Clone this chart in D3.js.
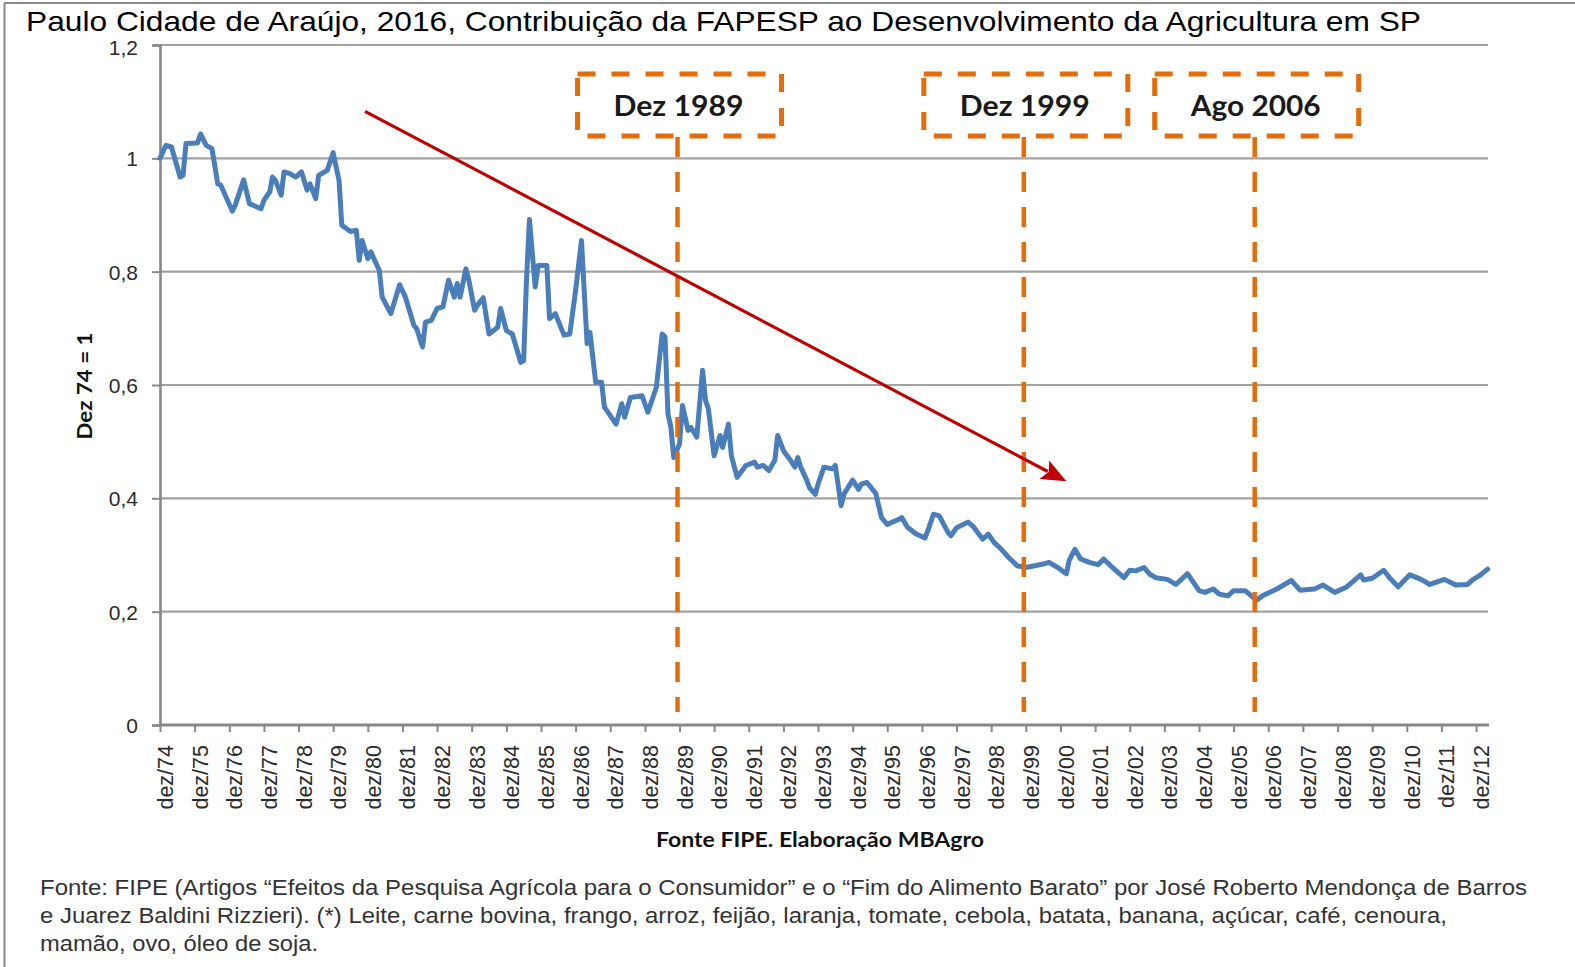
<!DOCTYPE html>
<html><head><meta charset="utf-8">
<script src="https://cdn.jsdelivr.net/npm/d3@7"></script>
<style>html,body{margin:0;padding:0;background:#fff;} svg{display:block;}</style>
</head><body>
<svg id="chart" width="1575" height="967"></svg>
<script>
// ---------- DATA ----------
const dates = [
 "1974-12","1975-02","1975-04","1975-07","1975-08","1975-09","1976-01","1976-02","1976-04","1976-06","1976-08","1976-09",
 "1977-01","1977-02","1977-05","1977-07","1977-11","1977-12","1978-02","1978-03","1978-04","1978-06","1978-07","1978-09","1978-11",
 "1979-01","1979-03","1979-04","1979-06","1979-07","1979-10","1979-12","1980-02","1980-03","1980-06","1980-08","1980-09","1980-10","1980-12",
 "1981-01","1981-04","1981-05","1981-08","1981-11","1982-01","1982-04","1982-05","1982-07","1982-08","1982-10","1982-12",
 "1983-02","1983-04","1983-06","1983-07","1983-08","1983-10","1983-11","1984-01","1984-02","1984-04","1984-06","1984-09","1984-10","1984-12",
 "1985-02","1985-05","1985-06","1985-07","1985-08","1985-10","1985-11","1986-02","1986-03","1986-05","1986-08","1986-10","1986-12",
 "1987-02","1987-04","1987-05","1987-07","1987-09","1987-10","1988-02","1988-04","1988-05","1988-07","1988-11",
 "1989-01","1989-04","1989-06","1989-07","1989-08","1989-09","1989-10","1989-12","1990-01","1990-03","1990-04","1990-06","1990-08","1990-09","1990-10","1990-12",
 "1991-02","1991-03","1991-05","1991-06","1991-08","1991-11","1992-02","1992-03","1992-05","1992-07","1992-09","1992-10","1992-12",
 "1993-02","1993-04","1993-05","1993-06","1993-08","1993-09","1993-11","1993-12","1994-02","1994-05","1994-06","1994-08","1994-09","1994-12",
 "1995-02","1995-03","1995-05","1995-08","1995-10","1995-12","1996-04","1996-05","1996-07","1996-10","1997-01","1997-02","1997-04","1997-06","1997-09","1997-10","1997-12",
 "1998-04","1998-06","1998-09","1998-11","1999-01","1999-03","1999-06","1999-09","1999-12","2000-03","2000-06","2000-08","2000-11",
 "2001-02","2001-03","2001-05","2001-07","2001-10","2002-01","2002-03","2002-06","2002-10","2002-12","2003-02","2003-05","2003-07","2003-09",
 "2004-01","2004-04","2004-08","2004-12","2005-02","2005-05","2005-07","2005-10","2005-12","2006-04","2006-08","2006-10",
 "2007-03","2007-08","2007-11","2008-04","2008-07","2008-11","2009-03","2009-08","2009-09","2009-12","2010-04","2010-06","2010-09",
 "2011-01","2011-05","2011-08","2012-01","2012-05","2012-09","2012-11","2013-01","2013-04"
];
const values = [
 1.000,1.023,1.020,0.967,0.970,1.026,1.027,1.043,1.023,1.017,0.955,0.953,
 0.907,0.917,0.962,0.920,0.911,0.926,0.941,0.967,0.961,0.935,0.976,0.973,0.967,
 0.976,0.944,0.955,0.929,0.970,0.979,1.010,0.961,0.882,0.871,0.873,0.820,0.855,0.823,
 0.835,0.802,0.755,0.726,0.777,0.755,0.705,0.699,0.667,0.711,0.714,0.735,
 0.738,0.785,0.755,0.779,0.755,0.805,0.785,0.732,0.741,0.754,0.690,0.702,0.735,0.696,
 0.690,0.640,0.643,0.785,0.892,0.773,0.811,0.811,0.717,0.726,0.688,0.690,0.767,
 0.855,0.673,0.693,0.605,0.605,0.561,0.531,0.567,0.543,0.578,0.581,
 0.552,0.596,0.690,0.685,0.549,0.525,0.472,0.496,0.564,0.520,0.525,0.508,0.626,0.573,0.558,0.475,
 0.511,0.490,0.531,0.475,0.437,0.458,0.464,0.455,0.458,0.449,0.467,0.511,0.484,
 0.470,0.455,0.472,0.455,0.433,0.419,0.407,0.425,0.455,0.452,0.458,0.387,0.408,0.432,
 0.416,0.425,0.428,0.409,0.366,0.354,0.363,0.366,0.349,0.337,0.330,0.343,0.372,0.369,0.340,0.334,0.348,
 0.358,0.349,0.328,0.337,0.322,0.313,0.296,0.281,0.278,0.281,0.284,0.287,0.278,
 0.267,0.290,0.310,0.293,0.287,0.283,0.293,0.278,0.260,0.273,0.272,0.278,0.266,0.260,
 0.257,0.248,0.267,0.237,0.234,0.240,0.231,0.228,0.237,0.237,0.220,0.228,
 0.240,0.255,0.238,0.240,0.247,0.234,0.243,0.265,0.256,0.259,0.273,0.260,0.244,
 0.265,0.257,0.248,0.257,0.247,0.248,0.257,0.263,0.275
];
const xDomain = ["1974-12","2013-04"];
const tickDates = ["1974-12","1975-12","1976-12","1977-12","1978-12","1979-12","1980-12","1981-12","1982-12","1983-12",
 "1984-12","1985-12","1986-12","1987-12","1988-12","1989-12","1990-12","1991-12","1992-12","1993-12",
 "1994-12","1995-12","1996-12","1997-12","1998-12","1999-12","2000-12","2001-12","2002-12","2003-12",
 "2004-12","2005-12","2006-12","2007-12","2008-12","2009-12","2010-12","2011-12","2012-12"];
const tickLabels = ["dez/74","dez/75","dez/76","dez/77","dez/78","dez/79","dez/80","dez/81","dez/82","dez/83",
 "dez/84","dez/85","dez/86","dez/87","dez/88","dez/89","dez/90","dez/91","dez/92","dez/93",
 "dez/94","dez/95","dez/96","dez/97","dez/98","dez/99","dez/00","dez/01","dez/02","dez/03",
 "dez/04","dez/05","dez/06","dez/07","dez/08","dez/09","dez/10","dez/11","dez/12"];
const yTicks = [0, 0.2, 0.4, 0.6, 0.8, 1, 1.2];
const yTickLabels = ["0","0,2","0,4","0,6","0,8","1","1,2"];
const markerDates = ["1989-12","1999-12","2006-08"];
const markerLabels = ["Dez 1989","Dez 1999","Ago 2006"];
const arrowFrom = ["1980-11", 1.083];
const arrowTo = ["2001-02", 0.430];
const titleText = "Paulo Cidade de Araújo, 2016, Contribuição da FAPESP ao Desenvolvimento da Agricultura em SP";
const yTitle = "Dez 74 = 1";
const xTitle = "Fonte FIPE. Elaboração  MBAgro";
const footnote = [
 "Fonte: FIPE (Artigos “Efeitos da Pesquisa Agrícola para o Consumidor” e o “Fim do Alimento Barato” por José Roberto Mendonça de Barros",
 "e Juarez Baldini Rizzieri). (*) Leite, carne bovina, frango, arroz, feijão, laranja, tomate, cebola, batata, banana, açúcar, café, cenoura,",
 "mamão, ovo, óleo de soja."
];

// ---------- DRAW ----------
const svg = d3.select("#chart");
const parse = d3.timeParse("%Y-%m");
const x = d3.scaleTime().domain(xDomain.map(parse)).range([160, 1487.6]);
const y = d3.scaleLinear().domain([0, 1.2]).range([725, 45]);
const plotRight = 1488;

// frame
svg.append("line").attr("x1",4).attr("x2",1575).attr("y1",3).attr("y2",3).attr("stroke","#8a8a8a").attr("stroke-width",2);
svg.append("line").attr("x1",4.5).attr("x2",4.5).attr("y1",3).attr("y2",967).attr("stroke","#8a8a8a").attr("stroke-width",2);

// title
svg.append("text").attr("x",26).attr("y",31).attr("font-family","'Liberation Sans', Arial, sans-serif")
  .attr("font-size",28).attr("fill","#000").attr("textLength",1395).attr("lengthAdjust","spacingAndGlyphs").text(titleText);

// gridlines
svg.append("g").selectAll("line").data(yTicks.filter(d=>d>0)).join("line")
  .attr("x1",160).attr("x2",plotRight).attr("y1",d=>y(d)).attr("y2",d=>y(d))
  .attr("stroke","#a2a2a2").attr("stroke-width",2.2);

// y axis
const yAxis = d3.axisLeft(y).tickValues(yTicks).tickSize(8).tickFormat((d,i)=>yTickLabels[i]);
const gy = svg.append("g").attr("transform","translate(160,0)").call(yAxis);
gy.select(".domain").attr("stroke","#888").attr("stroke-width",2.6);
gy.selectAll(".tick line").attr("stroke","#888").attr("stroke-width",2);
gy.selectAll(".tick text").attr("font-family","'Liberation Sans', Arial, sans-serif").attr("font-size",21)
  .attr("fill","#2b2b2b").attr("x",-22).attr("dy",(d)=> d===1.2 ? "0.45em" : "0.35em");

// x axis
const xAxis = d3.axisBottom(x).tickValues(tickDates.map(parse)).tickSize(7).tickFormat((d,i)=>tickLabels[i]);
const gx = svg.append("g").attr("transform","translate(0,725)").call(xAxis);
gx.select(".domain").attr("stroke","#888").attr("stroke-width",2.8).attr("d","M160,0H1489");
gx.selectAll(".tick line").attr("stroke","#888").attr("stroke-width",2);
gx.selectAll(".tick text").attr("font-family","'Liberation Sans', Arial, sans-serif").attr("font-size",21.5)
  .attr("fill","#2b2b2b").attr("text-anchor","end").attr("y",0).attr("dy","0.35em")
  .attr("transform","translate(5,20) rotate(-90)");

// axis titles
svg.append("text").attr("transform","translate(92,386) rotate(-90)").attr("text-anchor","middle")
  .attr("font-family","Lato, 'Open Sans', sans-serif").attr("font-weight","bold").attr("font-size",20)
  .attr("fill","#111").attr("textLength",107).attr("lengthAdjust","spacingAndGlyphs").text(yTitle);
svg.append("text").attr("x",820).attr("y",847).attr("text-anchor","middle")
  .attr("font-family","Lato, 'Open Sans', sans-serif").attr("font-weight","bold").attr("font-size",20.5)
  .attr("fill","#111").attr("textLength",328).attr("lengthAdjust","spacingAndGlyphs").text(xTitle);

// data line
const series = dates.map((d,i)=>({date:parse(d), v:values[i]}));
svg.append("path").datum(series)
  .attr("d", d3.line().x(d=>x(d.date)).y(d=>y(d.v)))
  .attr("fill","none").attr("stroke","#4a7ebb").attr("stroke-width",5)
  .attr("stroke-linejoin","round").attr("stroke-linecap","round");

// markers
const orange = "#e46c0a";
const mg = svg.append("g");
markerDates.forEach((md,i)=>{
  const cx = x(parse(md));
  mg.append("line").attr("x1",cx-2).attr("x2",cx-2).attr("y1",137).attr("y2",712)
    .attr("stroke",orange).attr("stroke-width",4.5).attr("stroke-dasharray","20 15");
  mg.append("rect").attr("x",cx-102).attr("y",74).attr("width",204).attr("height",62)
    .attr("fill","#fff").attr("stroke",orange).attr("stroke-width",5).attr("stroke-dasharray","18 16");
  mg.append("text").attr("x",cx-1).attr("y",116).attr("text-anchor","middle")
    .attr("font-family","Lato, 'Open Sans', sans-serif").attr("font-weight","bold").attr("font-size",29)
    .attr("fill","#1a1a1a").attr("textLength",130).attr("lengthAdjust","spacingAndGlyphs").text(markerLabels[i]);
});

// arrow
const red = "#c00000";
const ax1 = x(parse(arrowFrom[0])), ay1 = y(arrowFrom[1]);
const ax2 = x(parse(arrowTo[0])), ay2 = y(arrowTo[1]);
const L = Math.hypot(ax2-ax1, ay2-ay1), ux=(ax2-ax1)/L, uy=(ay2-ay1)/L;
const hl = 25, hw = 10.5;
const bx = ax2-ux*hl, by = ay2-uy*hl;
svg.append("line").attr("x1",ax1).attr("y1",ay1).attr("x2",bx+ux*4).attr("y2",by+uy*4)
  .attr("stroke",red).attr("stroke-width",3.2);
svg.append("path").attr("d",`M${ax2},${ay2}L${bx-uy*hw},${by+ux*hw}L${bx+ux*5},${by+uy*5}L${bx+uy*hw},${by-ux*hw}Z`)
  .attr("fill",red);

// footnote
const fw = [1487, 1407, 278];
footnote.forEach((t,i)=>{
  svg.append("text").attr("x",40).attr("y",895+i*28)
    .attr("font-family","'Liberation Sans', Arial, sans-serif").attr("font-size",21.5).attr("fill","#333")
    .attr("textLength",fw[i]).attr("lengthAdjust","spacingAndGlyphs").text(t);
});
</script>
</body></html>
